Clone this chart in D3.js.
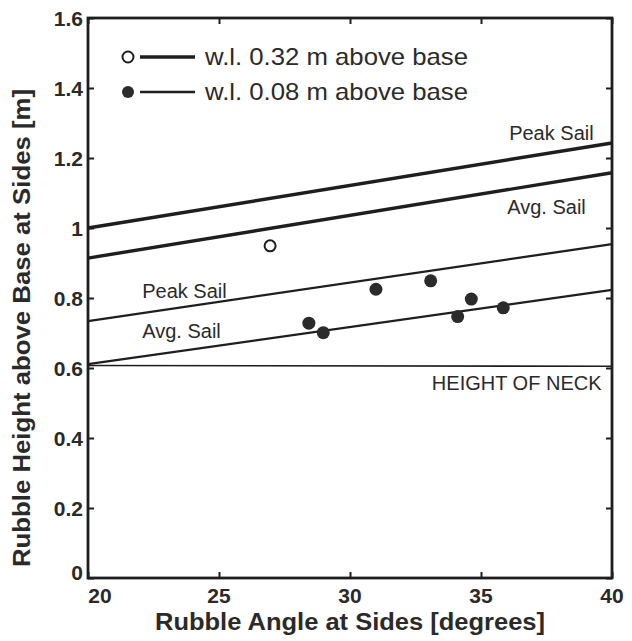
<!DOCTYPE html>
<html>
<head>
<meta charset="utf-8">
<script src="https://cdn.jsdelivr.net/npm/d3@7"></script>
<style>
  body { margin: 0; background: #fff; }
  svg text { font-family: "Liberation Sans", Arial, sans-serif; fill: #2a2a2a; }
</style>
</head>
<body>
<svg id="chart"></svg>
<script>
// data
const xTicks = [20, 25, 30, 35, 40];
const yTicks = [0, 0.2, 0.4, 0.6, 0.8, 1, 1.2, 1.4, 1.6];

const lineX = [20, 40];
const peakHigh = [1.0, 1.243];   // w.l. 0.32 m
const avgHigh = [0.914, 1.158];
const peakLow = [0.734, 0.954];  // w.l. 0.08 m
const avgLow = [0.611, 0.823];
const neck = [0.607, 0.605];

const openX = [26.95];
const openY = [0.949];
const filledX = [28.43, 28.98, 30.99, 33.08, 34.11, 34.63, 35.85];
const filledY = [0.728, 0.701, 0.825, 0.849, 0.747, 0.797, 0.772];

const W = 632, H = 641;
const M = { top: 18, right: 20, bottom: 63, left: 88 };

const svg = d3.select("#chart").attr("width", W).attr("height", H);

const x = d3.scaleLinear([20, 40], [M.left, W - M.right]);
const y = d3.scaleLinear([0, 1.6], [H - M.bottom, M.top]);

const ink = "#1e1e1e";

// frame
svg.append("rect")
  .attr("x", x(20)).attr("y", y(1.6))
  .attr("width", x(40) - x(20)).attr("height", y(0) - y(1.6))
  .attr("fill", "none").attr("stroke", ink).attr("stroke-width", 2.8);

// inward ticks
const tickLen = 6;
const axB = svg.append("g").attr("transform", `translate(0,${y(0)})`)
  .call(d3.axisBottom(x).tickValues(xTicks).tickSize(-tickLen).tickFormat(""));
const axT = svg.append("g").attr("transform", `translate(0,${y(1.6)})`)
  .call(d3.axisTop(x).tickValues(xTicks).tickSize(-tickLen).tickFormat(""));
const axL = svg.append("g").attr("transform", `translate(${x(20)},0)`)
  .call(d3.axisLeft(y).tickValues(yTicks).tickSize(-tickLen).tickFormat(""));
const axR = svg.append("g").attr("transform", `translate(${x(40)},0)`)
  .call(d3.axisRight(y).tickValues(yTicks).tickSize(-tickLen).tickFormat(""));
[axB, axT, axL, axR].forEach(a => {
  a.select(".domain").remove();
  a.selectAll("line").attr("stroke", ink).attr("stroke-width", 2);
});

// tick labels
svg.append("g").selectAll("text").data(xTicks).join("text")
  .attr("x", d => x(d) + (d === 20 ? 12 : 0))
  .attr("y", y(0) + 25)
  .attr("text-anchor", "middle")
  .attr("font-size", 21).attr("font-weight", "bold").attr("fill", "#333")
  .text(d => d);
svg.append("g").selectAll("text").data(yTicks).join("text")
  .attr("x", x(20) - 5)
  .attr("y", d => y(d) + (d === 0 ? 2 : 8))
  .attr("text-anchor", "end")
  .attr("font-size", 21).attr("font-weight", "bold").attr("fill", "#333")
  .text(d => d);

// axis titles
svg.append("text")
  .attr("x", 350).attr("y", 630)
  .attr("text-anchor", "middle")
  .attr("font-size", 23).attr("font-weight", "bold").attr("fill", "#444")
  .attr("textLength", 390).attr("lengthAdjust", "spacingAndGlyphs")
  .text("Rubble Angle at Sides [degrees]");
svg.append("text")
  .attr("transform", `translate(30,328) rotate(-90)`)
  .attr("text-anchor", "middle")
  .attr("font-size", 23).attr("font-weight", "bold").attr("fill", "#444")
  .attr("textLength", 478).attr("lengthAdjust", "spacingAndGlyphs")
  .text("Rubble Height above Base at Sides [m]");

// reference lines
const line = d3.line().x((d, i) => x(lineX[i])).y(d => y(d));
const refs = [
  { v: peakHigh, w: 3.4 },
  { v: avgHigh, w: 3.4 },
  { v: peakLow, w: 2.3 },
  { v: avgLow, w: 2.3 },
  { v: neck, w: 1.6 }
];
svg.append("g").selectAll("path").data(refs).join("path")
  .attr("d", d => line(d.v))
  .attr("fill", "none").attr("stroke", ink)
  .attr("stroke-width", d => d.w);

// line labels
const labels = [
  { t: "Peak Sail", x: 39.3, y: 1.251, a: "end" },
  { t: "Avg. Sail", x: 39.0, y: 1.04, a: "end" },
  { t: "Peak Sail", x: 22.07, y: 0.8, a: "start" },
  { t: "Avg. Sail", x: 22.07, y: 0.686, a: "start" },
  { t: "HEIGHT OF NECK", x: 39.6, y: 0.537, a: "end" }
];
svg.append("g").selectAll("text").data(labels).join("text")
  .attr("x", d => x(d.x)).attr("y", d => y(d.y))
  .attr("text-anchor", d => d.a)
  .attr("font-size", 20)
  .text(d => d.t);

// points
svg.append("g").selectAll("circle").data(openX).join("circle")
  .attr("cx", d => x(d)).attr("cy", (d, i) => y(openY[i]))
  .attr("r", 5.5).attr("fill", "#fff").attr("stroke", ink).attr("stroke-width", 2);
svg.append("g").selectAll("circle").data(filledX).join("circle")
  .attr("cx", d => x(d)).attr("cy", (d, i) => y(filledY[i]))
  .attr("r", 6.5).attr("fill", "#2b2b2b");

// legend
const legend = [
  { t: "w.l. 0.32 m above base", open: true, w: 3.4 },
  { t: "w.l. 0.08 m above base", open: false, w: 2.3 }
];
const lg = svg.append("g").selectAll("g").data(legend).join("g")
  .attr("transform", (d, i) => `translate(128,${57 + i * 35})`);
lg.append("circle")
  .attr("r", d => d.open ? 5.5 : 6)
  .attr("fill", d => d.open ? "#fff" : "#2b2b2b")
  .attr("stroke", d => d.open ? ink : "none").attr("stroke-width", 2);
lg.append("line")
  .attr("x1", 12).attr("x2", 67)
  .attr("stroke", ink).attr("stroke-width", d => d.w);
lg.append("text")
  .attr("x", 77).attr("y", 8)
  .attr("font-size", 24)
  .attr("textLength", 263).attr("lengthAdjust", "spacingAndGlyphs")
  .text(d => d.t);
</script>
</body>
</html>
